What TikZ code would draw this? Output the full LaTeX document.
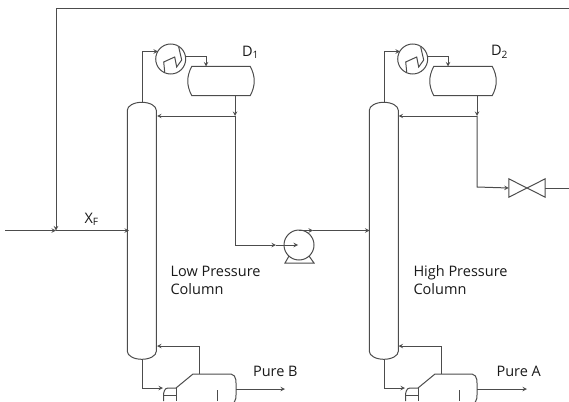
\documentclass[tikz,border=0pt]{standalone}
\usepackage{fontspec}
\setmainfont{Open Sans}
\usetikzlibrary{arrows, positioning}
\tikzstyle{line} = [line width=1pt, draw=black!70]
\tikzstyle{arrow} = [line, ->, >=stealth]
\tikzstyle{label} = [font=\fontsize{14.5}{18.5}\selectfont, align=left, text=black!90]
\tikzstyle{body} = [minimum width=29pt, minimum height=257pt, inner sep=0pt]
\tikzstyle{drumbox} = [minimum width=58pt, minimum height=29pt, inner sep=0pt]
\tikzstyle{hx} = [circle, line, minimum size=30pt, inner sep=0pt]
\tikzstyle{rotor} = [circle, line, minimum size=30pt, inner sep=0pt]
\tikzstyle{gate} = [minimum width=36pt, minimum height=18pt, inner sep=0pt]
% column outline around its node
\newcommand{\columnshell}[1]{
    \draw [line] (#1.north west) ++(0,8) arc (180:360:14.5 and 8) -- ++(0,241)
        arc (0:180:14.5 and 8) -- cycle;
}
\newcommand{\drumshell}[1]{
    \draw [line] (#1.north west) -- (#1.north east) to[bend left=28] (#1.south east)
        -- (#1.south west) to[bend left=28] cycle;
}
\newcommand{\coilmark}[1]{
    \draw [line] ([shift={(-6,13)}]#1.center) -- ++(-1,-10) -- ++(11,-5) -- ++(2,10) -- ++(5,-7) -- ++(-3,-13);
}
\begin{document}
\begin{tikzpicture}[x=1pt, y=-1pt]
    \useasboundingbox (0,0) rectangle (569,401);
    \clip (0,0) rectangle (569,401);

    % low pressure side
    \node (colL) [body] at (142,231) {};
    \node (condL) [hx] at (170.7,59) {};
    \node (drumL) [drumbox] at (221,81) {};
    \columnshell{colL}
    \drumshell{drumL}
    \coilmark{condL}
    \node (dL) [label, anchor=west] at (238.5,52) {D\textsubscript{1}};
    \node (nameL) [label, anchor=north west] at (167,262.5) {Low Pressure\\Column};
    \node (pureB) [label, anchor=west] at (249.5,371.5) {Pure B};

    % high pressure side
    \node (colH) [body] at (384,231) {};
    \node (condH) [hx] at (412.7,59) {};
    \node (drumH) [drumbox] at (463,81) {};
    \columnshell{colH}
    \drumshell{drumH}
    \coilmark{condH}
    \node (dH) [label, anchor=west] at (487.5,52) {D\textsubscript{2}};
    \node (nameH) [label, anchor=north west] at (410,261.5) {High Pressure\\Column};
    \node (pureA) [label, anchor=west] at (493,371.5) {Pure A};

    \node (xf) [label, anchor=west] at (81,219) {X\textsubscript{F}};

    % pump and valve
    \node (pump) [rotor] at (299,245) {};
    \draw [line] (289,256) -- (285,263) -- (314,263) -- (309,256);
    \node (valve) [gate] at (527,188) {};
    \draw [line] (valve.north west) -- (valve.south east) -- (valve.north east)
        -- (valve.south west) -- cycle;

    \coordinate (feedin) at (5,230.5);
    \coordinate (mix) at (56,230.5);
    \coordinate (cornerA) at (56,9);
    \coordinate (edgeA) at (569,9);
    \coordinate (teeL) at (235,116);
    \coordinate (teeH) at (477,116);
    \coordinate (pumpin) at (276,245);
    \coordinate (pumpout) at (313,230.5);

    % feed and recycle
    \draw [arrow] (feedin) -- (mix);
    \draw [arrow] (mix) -- (129,230.5);
    \draw [arrow] (edgeA) -- (cornerA) -- (mix);

    % overheads
    \draw [arrow] (colL.north) -- (142,51.5) -- (158,51.5);
    \draw [arrow] (185,57) -- (206,57) -- (206,66.5);
    \draw [arrow] (drumL.south -| teeL) -- (teeL);
    \draw [arrow] (teeL) -- (157,116);
    \draw [arrow] (teeL) -- (235,245) -- (pumpin);
    \draw [arrow] (pumpin) -- (298,245);
    \draw [arrow] (299,230.5) -- (pumpout);
    \draw [arrow] (pumpout) -- (369.5,230.5);

    \draw [arrow] (colH.north) -- (384,51.5) -- (400,51.5);
    \draw [arrow] (427,57) -- (448,57) -- (448,66.5);
    \draw [arrow] (drumH.south -| teeH) -- (teeH);
    \draw [arrow] (teeH) -- (398.5,116);
    \draw [arrow] (teeH) -- (477,187) -- (valve.west);
    \draw [line] (valve.east) -- (569,188);

    % bottoms, first reboiler
    \draw [arrow] (colL.south) -- (142,388) -- (163,388);
    \draw [line] (176,388) -- (193,374) -- (231,374) to[out=-10, in=90] (236,389) to[out=-90, in=10] (231,404);
    \draw [line] (176,388) -- (168,388) to[out=180, in=90] (163.5,396) -- (163.5,401);
    \draw [line] (176,388) -- (176,401);
    \draw [line] (164,395) -- (176,395);
    \draw [line] (217,390) -- (217,401);
    \draw [arrow] (199,374) -- (199,346) -- (157,346);
    \draw [arrow] (236,389) -- (285,389);

    % bottoms, second reboiler
    \draw [arrow] (colH.south) -- (384,388) -- (405,388);
    \draw [line] (418,388) -- (435,374) -- (472,374) to[out=-10, in=90] (477,389) to[out=-90, in=10] (472,404);
    \draw [line] (418,388) -- (410,388) to[out=180, in=90] (405.5,396) -- (405.5,401);
    \draw [line] (418,388) -- (418,401);
    \draw [line] (406,395) -- (418,395);
    \draw [line] (459,390) -- (459,401);
    \draw [arrow] (441,374) -- (441,346) -- (398.5,346);
    \draw [arrow] (477,389) -- (527,389);
\end{tikzpicture}
\end{document}
